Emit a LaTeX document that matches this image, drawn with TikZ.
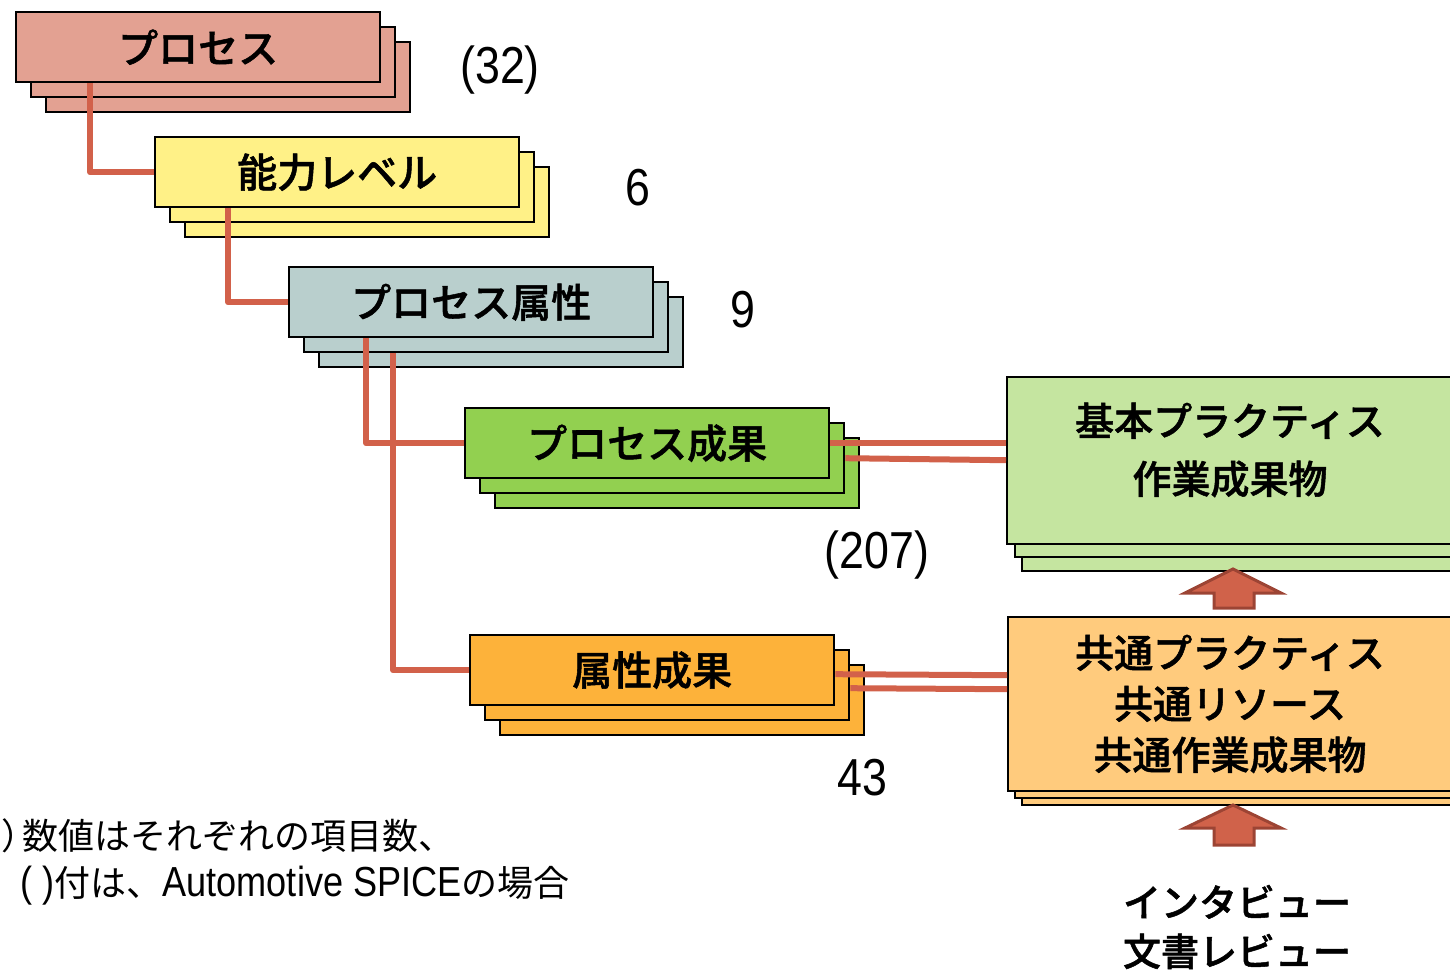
\documentclass[tikz,border=0pt]{standalone}
\usepackage{fontspec}
\newfontfamily\jp{Noto Sans CJK JP}
\newfontfamily\jpm[FakeBold=1.3]{Noto Sans CJK JP Medium}
\newfontfamily\numf[FakeStretch=0.86]{Liberation Sans}
\usetikzlibrary{calc}
\definecolor{cP}{HTML}{E3A192}
\definecolor{cL}{HTML}{FFF187}
\definecolor{cA}{HTML}{B9CFCD}
\definecolor{cPO}{HTML}{92D050}
\definecolor{cAO}{HTML}{FDB23A}
\definecolor{cBP}{HTML}{C5E5A0}
\definecolor{cCM}{HTML}{FFCB7D}
\definecolor{lnc}{HTML}{D2614A}
\definecolor{arF}{HTML}{D0624A}
\definecolor{arD}{HTML}{9C4434}
\tikzset{
  bx/.style={draw=black, line width=1.2pt, inner sep=0pt, anchor=north west,
    minimum width=182pt, minimum height=35pt},
  rbx/.style={draw=black, line width=1pt, inner sep=0pt, anchor=north west,
    minimum width=227pt},
  lbl/.style={font=\jpm\fontsize{20}{24}\selectfont},
  rtxt/.style={font=\jpm\fontsize{19.5}{29}\selectfont, align=center},
  num/.style={font=\numf\fontsize{26}{30}\selectfont},
  conn/.style={draw=lnc, line width=3pt, line join=round},
  blockarrow/.style={fill=arF, draw=arD, line width=1.5pt, line join=miter}
}
\begin{document}
\begin{tikzpicture}[x=0.5pt,y=-0.5pt]
\useasboundingbox (0,0) rectangle (1450,973);
\clip (0,0) rectangle (1450,973);

% Process
\node[bx, fill=cP] (p2) at (45,41) {};
\node[bx, fill=cP] (p1) at (30,26) {};
\node[bx, fill=cP, lbl] (p) at (15,11) {プロセス};
% Capability level
\node[bx, fill=cL] (l2) at (184,166) {};
\node[bx, fill=cL] (l1) at (169,151) {};
\node[bx, fill=cL, lbl] (l) at (154,136) {能力レベル};
% Process attribute
\node[bx, fill=cA] (a2) at (318,296) {};
\node[bx, fill=cA] (a1) at (303,281) {};
\node[bx, fill=cA, lbl] (a) at (288,266) {プロセス属性};
% Process outcome
\node[bx, fill=cPO] (po2) at (494,437) {};
\node[bx, fill=cPO] (po1) at (479,422) {};
\node[bx, fill=cPO, lbl] (po) at (464,407) {プロセス成果};
% Attribute outcome
\node[bx, fill=cAO] (ao2) at (499,664) {};
\node[bx, fill=cAO] (ao1) at (484,649) {};
\node[bx, fill=cAO, lbl] (ao) at (469,634) {属性成果};

% Right boxes
\node[rbx, fill=cBP, minimum height=83.5pt] (bp2) at (1021,403) {};
\node[rbx, fill=cBP, minimum height=83.5pt] (bp1) at (1014,389) {};
\node[rbx, fill=cBP, minimum height=83.5pt] (bp) at (1006,376) {};
\node[rtxt] (bpt) at (1230,450) {基本プラクティス\\作業成果物};

\node[rbx, fill=cCM, minimum height=87pt] (cm2) at (1021,630) {};
\node[rbx, fill=cCM, minimum height=87pt] (cm1) at (1014,623) {};
\node[rbx, fill=cCM, minimum height=87pt] (cm) at (1007,616) {};
\node[rtxt, font=\jpm\fontsize{19.5}{25.5}\selectfont] (cmt) at (1230,704) {共通プラクティス\\共通リソース\\共通作業成果物};

% Connectors
\draw[conn] ($(p.south west)+(75,0)$) |- (l.west);
\draw[conn] ($(l.south west)+(74,0)$) |- (a.west);
\draw[conn] ($(a.south west)+(78,0)$) |- (po.west);
\draw[conn] ($(a1.south west)+(90,0)$) |- (ao.west);
\draw[conn] (po.east) -- (po.east -| bp.west);
\draw[conn] (po1.east) -- ($(po1.east -| bp.west)+(0,2)$);
\draw[conn] ($(ao.east)+(0,4)$) -- ($(ao.east -| cm.west)+(0,5)$);
\draw[conn] ($(ao1.east)+(0,3)$) -- ($(ao1.east -| cm.west)+(0,4)$);

% Block arrows
\draw[blockarrow] (1185,593) -- (1233,569) -- (1281,593) -- (1254,593) -- (1254,608)
  -- (1214,608) -- (1214,593) -- cycle;
\draw[blockarrow] (1185,828) -- (1233,805) -- (1281,828) -- (1254,828) -- (1254,845)
  -- (1214,845) -- (1214,828) -- cycle;

% Counts
\node[num] (n1) at (500,70) {(32)};
\node[num] (n2) at (638,188) {6};
\node[num] (n3) at (743,310) {9};
\node[num] (n4) at (877,555) {(207)};
\node[num] (n5) at (862,778) {43};

% Methods
\node[font=\jpm\fontsize{19}{24.5}\selectfont, align=center] (meth) at (1237,927) {インタビュー\\文書レビュー};

% Note
\node[anchor=base west, inner sep=0pt, font=\jp\fontsize{18}{22}\selectfont] (note1) at (-50,849) {注\kern7.5pt）\kern-7.5pt数値はそれぞれの項目数、};
\node[anchor=base west, inner sep=0pt] (note2) at (20,896) {{\numf\fontsize{21}{24}\selectfont( )}{\jp\fontsize{18}{22}\selectfont 付は、}{\numf\fontsize{21}{24}\selectfont Automotive SPICE}{\jp\fontsize{18}{22}\selectfont の場合}};
\end{tikzpicture}
\end{document}
